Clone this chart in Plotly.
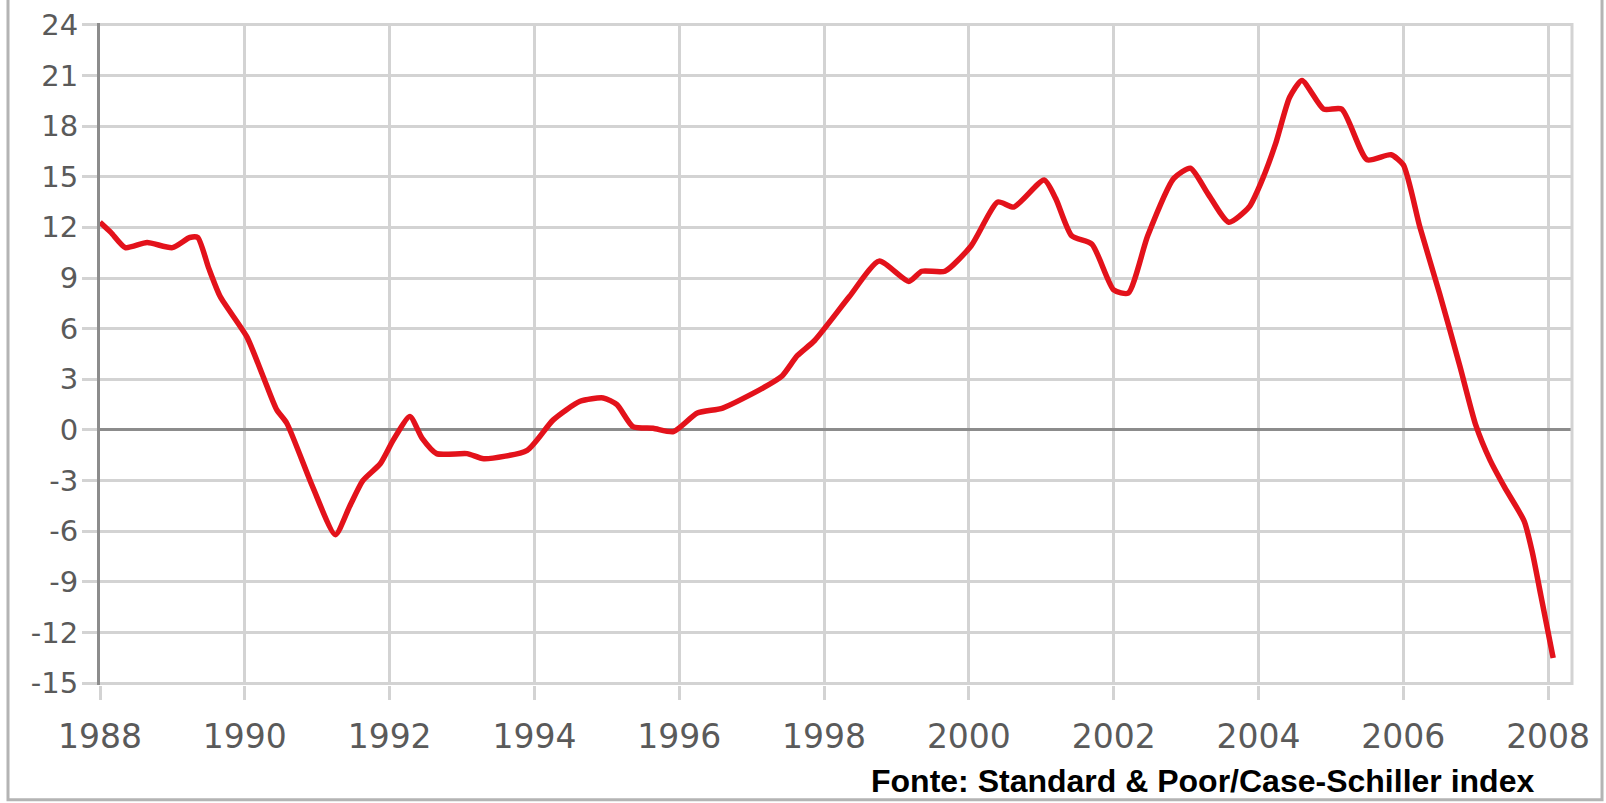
"""
Case-Shiller style annual change chart, 1988-2008.
"""

import plotly.graph_objects as go

# ── Data ────────────────────────────────────────────────────────────────────

YEARS = [
    1988.00, 1988.15, 1988.35, 1988.65, 1989.00, 1989.24, 1989.35, 1989.50,
    1989.66, 1990.03, 1990.25, 1990.44, 1990.58, 1990.94, 1991.25, 1991.45,
    1991.63, 1991.87, 1992.05, 1992.28, 1992.45, 1992.65, 1993.07, 1993.30,
    1993.90, 1994.26, 1994.63, 1994.95, 1995.14, 1995.36, 1995.64, 1995.92,
    1996.25, 1996.60, 1997.16, 1997.42, 1997.63, 1997.87, 1998.35, 1998.76,
    1999.17, 1999.35, 1999.67, 2000.03, 2000.40, 2000.62, 2001.04, 2001.20,
    2001.42, 2001.70, 2002.00, 2002.20, 2002.47, 2002.83, 2003.06, 2003.30,
    2003.59, 2003.87, 2004.05, 2004.24, 2004.43, 2004.60, 2004.90, 2005.15,
    2005.50, 2005.83, 2006.00, 2006.23, 2006.50, 2006.78, 2007.00, 2007.20,
    2007.40, 2007.67, 2007.78, 2007.90, 2008.07,
]

CHANGE_PCT = [
    12.3, 11.7, 10.8, 11.1, 10.8, 11.4, 11.4, 9.6,
    7.9, 5.5, 3.2, 1.2, 0.4, -3.4, -6.2, -4.5,
    -3.0, -2.0, -0.6, 0.8, -0.5, -1.4, -1.4, -1.7,
    -1.2, 0.6, 1.7, 1.9, 1.5, 0.2, 0.1, -0.1,
    1.0, 1.3, 2.5, 3.2, 4.4, 5.3, 7.9, 10.0,
    8.8, 9.4, 9.4, 10.9, 13.5, 13.2, 14.8, 13.7,
    11.5, 11.0, 8.3, 8.1, 11.5, 14.9, 15.5, 14.0,
    12.3, 13.2, 14.8, 17.0, 19.7, 20.7, 19.0, 19.0,
    16.0, 16.3, 15.7, 12.0, 8.1, 3.8, 0.3, -1.8,
    -3.4, -5.4, -7.2, -9.8, -13.5,
]

X_TICKS = list(range(1988, 2009, 2))
Y_TICKS = list(range(-15, 25, 3))
Y_LABELS = [str(v) for v in Y_TICKS]  # plain hyphen minus, as in the source

SOURCE = "Fonte: Standard & Poor/Case-Schiller index"

GRID = "#d3d3d3"
AXIS = "#8c8c8c"
X_FONT = dict(family="DejaVu Sans", size=33, color="#5a5a5a")
Y_FONT = dict(family="DejaVu Sans", size=29, color="#5a5a5a")

# ── Figure ──────────────────────────────────────────────────────────────────

fig = go.Figure(go.Scatter(
    x=YEARS,
    y=CHANGE_PCT,
    mode="lines",
    line=dict(color="#e3121b", width=5.5, shape="spline", smoothing=0.6),
    showlegend=False,
))

fig.update_xaxes(
    range=[1988, 2008.33],
    tickvals=X_TICKS,
    showgrid=True, gridcolor=GRID, gridwidth=3,
    ticks="outside", ticklen=14, tickwidth=3, tickcolor=GRID,
    tickfont=X_FONT,
    ticklabelstandoff=8,
    zeroline=False,
    automargin=False,
)
fig.update_yaxes(
    range=[-15.1, 24.1],
    tickvals=Y_TICKS,
    ticktext=Y_LABELS,
    showgrid=True, gridcolor=GRID, gridwidth=3,
    zeroline=True, zerolinecolor=AXIS, zerolinewidth=3,
    showline=True, linecolor=AXIS, linewidth=3,
    ticks="outside", ticklen=15, tickwidth=3, tickcolor=GRID,
    tickfont=Y_FONT,
    ticklabelstandoff=-2,
    automargin=False,
)

# light right edge of the plot area
fig.add_shape(type="line", xref="paper", yref="paper",
              x0=1, x1=1, y0=0, y1=1,
              line=dict(color=GRID, width=3))

# outer frame around the picture (top edge falls outside the page)
fig.add_shape(type="rect", xref="paper", yref="paper",
              x0=-0.0625, x1=1.0204, y0=-0.1735, y1=1.1,
              line=dict(color="#b4b4b4", width=3))

fig.add_annotation(
    text=f"<b>{SOURCE}</b>",
    xref="paper", yref="paper",
    x=0.9755, y=-0.145, xanchor="right", yanchor="middle",
    showarrow=False,
    font=dict(family="Liberation Sans", size=32, color="#000000"),
)

fig.update_layout(
    width=1606,
    height=803,
    plot_bgcolor="#ffffff",
    paper_bgcolor="#ffffff",
    margin=dict(t=23, b=118, l=100, r=34),
)

# drop the browser's default body margin so the figure sits at (0, 0)
fig.write_html(
    "out.html",
    config={"displayModeBar": False},
    post_script="document.body.style.margin='0';document.body.style.overflow='hidden';",
)
